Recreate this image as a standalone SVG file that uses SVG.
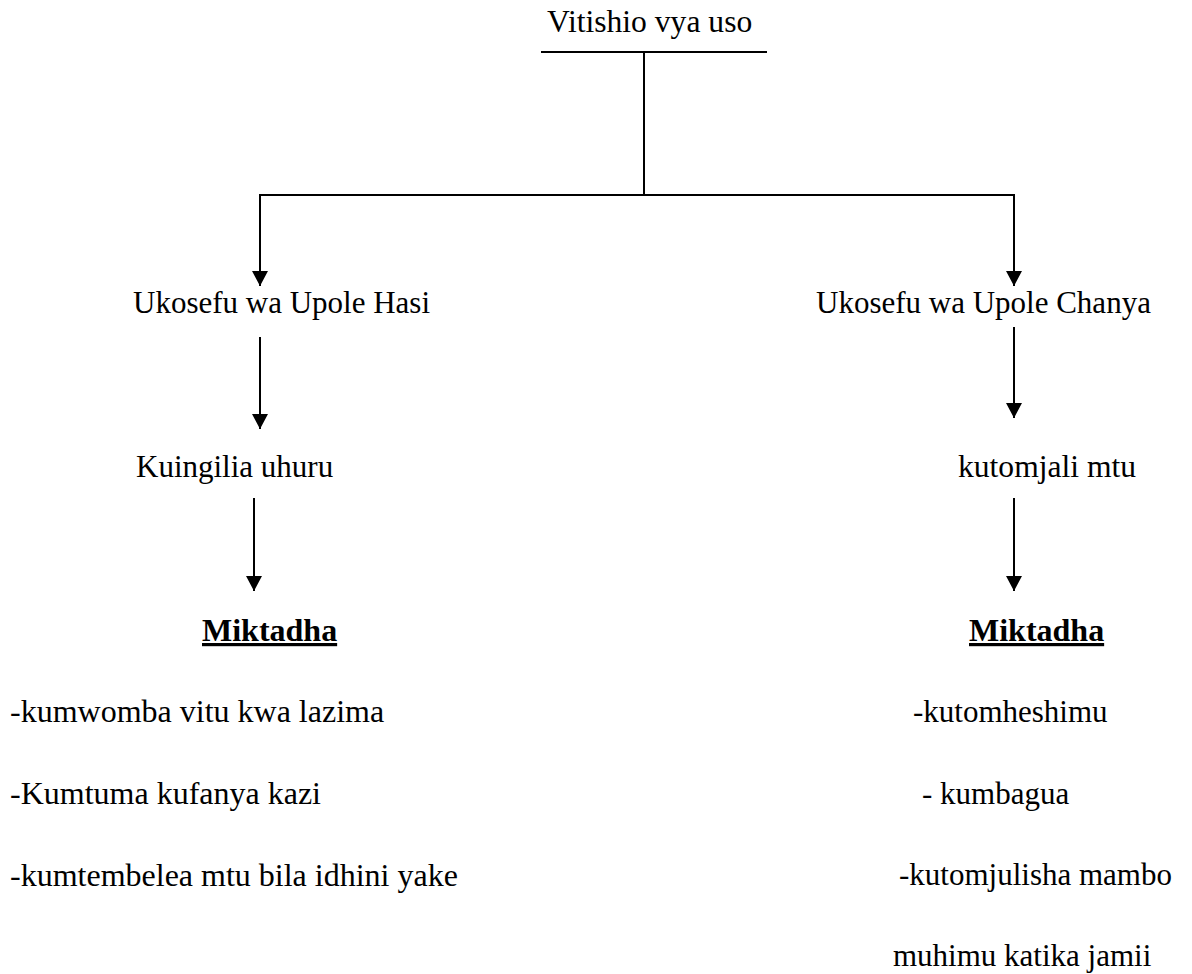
<svg xmlns="http://www.w3.org/2000/svg" width="1192" height="974" viewBox="0 0 1192 974">
  <defs>
    <marker id="arrow" markerUnits="userSpaceOnUse" markerWidth="16" markerHeight="16" refX="15" refY="8" orient="auto" viewBox="0 0 16 16">
      <path d="M0,0 L15,8 L0,16 Z" fill="#000"/>
    </marker>
    <style>
      text { font-family: "Liberation Serif", "Times New Roman", serif; font-size: 31px; fill: #000; }
      .big { font-size: 32px; }
      .bold { font-weight: bold; font-size: 32px; text-decoration: underline; }
      .line { stroke: #000; stroke-width: 2; fill: none; }
      .arr { stroke: #000; stroke-width: 2; fill: none; }
    </style>
  </defs>
  <rect width="1192" height="974" fill="#fff"/>

  <g id="root">
    <text x="547" y="32" style="font-size:31.6px">Vitishio vya uso</text>
  </g>

  <g id="left-branch">
    <text x="133" y="313">Ukosefu wa Upole Hasi</text>
  </g>
  <g id="right-branch">
    <text x="816" y="313">Ukosefu wa Upole Chanya</text>
  </g>

  <g id="left-child">
    <text x="136" y="477">Kuingilia uhuru</text>
  </g>
  <g id="right-child">
    <text x="958" y="477" style="font-size:31.6px">kutomjali mtu</text>
  </g>

  <g id="left-miktadha">
    <text class="bold" x="202" y="641">Miktadha</text>
  </g>
  <g id="right-miktadha">
    <text class="bold" x="969" y="641">Miktadha</text>
  </g>

  <g id="left-list">
    <text class="big" x="10" y="722">-kumwomba vitu kwa lazima</text>
    <text class="big" x="10" y="804">-Kumtuma kufanya kazi</text>
    <text class="big" x="10" y="886">-kumtembelea mtu bila idhini yake</text>
  </g>
  <g id="right-list">
    <text x="913" y="722">-kutomheshimu</text>
    <text x="922" y="804">- kumbagua</text>
    <text x="899" y="885">-kutomjulisha mambo</text>
    <text x="893" y="966">muhimu katika jamii</text>
  </g>

  <g id="connectors">
    <line class="line" x1="541" y1="52" x2="767" y2="52"/>
    <line class="line" x1="644" y1="52" x2="644" y2="195"/>
    <line class="line" x1="259" y1="195" x2="1015" y2="195"/>
    <line class="arr" x1="260" y1="195" x2="260" y2="286" marker-end="url(#arrow)"/>
    <line class="arr" x1="1014" y1="195" x2="1014" y2="286" marker-end="url(#arrow)"/>
    <line class="arr" x1="260" y1="337" x2="260" y2="429" marker-end="url(#arrow)"/>
    <line class="arr" x1="1014" y1="327" x2="1014" y2="418" marker-end="url(#arrow)"/>
    <line class="arr" x1="254" y1="498" x2="254" y2="591" marker-end="url(#arrow)"/>
    <line class="arr" x1="1014" y1="498" x2="1014" y2="591" marker-end="url(#arrow)"/>
  </g>
</svg>
